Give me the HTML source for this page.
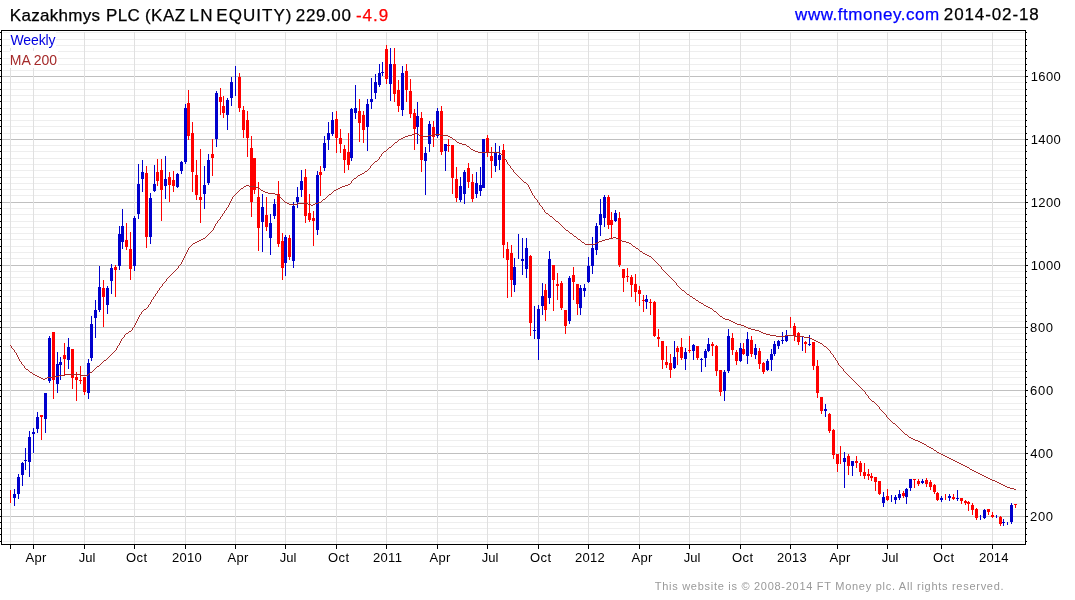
<!DOCTYPE html><html><head><meta charset="utf-8"><title>Kazakhmys PLC</title>
<style>html,body{margin:0;padding:0;background:#fff}svg{display:block;will-change:transform}text{font-family:"Liberation Sans",Arial,sans-serif}</style></head><body>
<svg width="1075" height="600" viewBox="0 0 1075 600">
<rect width="1075" height="600" fill="#fff"/>
<g shape-rendering="crispEdges">
<rect x="3" y="541" width="1021" height="1" fill="#eeeeee"/>
<rect x="3" y="534" width="1021" height="1" fill="#eeeeee"/>
<rect x="3" y="528" width="1021" height="1" fill="#eeeeee"/>
<rect x="3" y="522" width="1021" height="1" fill="#eeeeee"/>
<rect x="2" y="516" width="1023" height="1" fill="#c0c0c0"/>
<rect x="3" y="509" width="1021" height="1" fill="#eeeeee"/>
<rect x="3" y="503" width="1021" height="1" fill="#eeeeee"/>
<rect x="3" y="497" width="1021" height="1" fill="#eeeeee"/>
<rect x="3" y="490" width="1021" height="1" fill="#eeeeee"/>
<rect x="3" y="484" width="1021" height="1" fill="#eeeeee"/>
<rect x="3" y="478" width="1021" height="1" fill="#eeeeee"/>
<rect x="3" y="472" width="1021" height="1" fill="#eeeeee"/>
<rect x="3" y="465" width="1021" height="1" fill="#eeeeee"/>
<rect x="3" y="459" width="1021" height="1" fill="#eeeeee"/>
<rect x="2" y="453" width="1023" height="1" fill="#c0c0c0"/>
<rect x="3" y="446" width="1021" height="1" fill="#eeeeee"/>
<rect x="3" y="440" width="1021" height="1" fill="#eeeeee"/>
<rect x="3" y="434" width="1021" height="1" fill="#eeeeee"/>
<rect x="3" y="428" width="1021" height="1" fill="#eeeeee"/>
<rect x="3" y="421" width="1021" height="1" fill="#eeeeee"/>
<rect x="3" y="415" width="1021" height="1" fill="#eeeeee"/>
<rect x="3" y="409" width="1021" height="1" fill="#eeeeee"/>
<rect x="3" y="403" width="1021" height="1" fill="#eeeeee"/>
<rect x="3" y="396" width="1021" height="1" fill="#eeeeee"/>
<rect x="2" y="390" width="1023" height="1" fill="#c0c0c0"/>
<rect x="3" y="384" width="1021" height="1" fill="#eeeeee"/>
<rect x="3" y="377" width="1021" height="1" fill="#eeeeee"/>
<rect x="3" y="371" width="1021" height="1" fill="#eeeeee"/>
<rect x="3" y="365" width="1021" height="1" fill="#eeeeee"/>
<rect x="3" y="359" width="1021" height="1" fill="#eeeeee"/>
<rect x="3" y="352" width="1021" height="1" fill="#eeeeee"/>
<rect x="3" y="346" width="1021" height="1" fill="#eeeeee"/>
<rect x="3" y="339" width="1021" height="1" fill="#eeeeee"/>
<rect x="3" y="333" width="1021" height="1" fill="#eeeeee"/>
<rect x="2" y="327" width="1023" height="1" fill="#c0c0c0"/>
<rect x="3" y="321" width="1021" height="1" fill="#eeeeee"/>
<rect x="3" y="315" width="1021" height="1" fill="#eeeeee"/>
<rect x="3" y="308" width="1021" height="1" fill="#eeeeee"/>
<rect x="3" y="302" width="1021" height="1" fill="#eeeeee"/>
<rect x="3" y="296" width="1021" height="1" fill="#eeeeee"/>
<rect x="3" y="290" width="1021" height="1" fill="#eeeeee"/>
<rect x="3" y="283" width="1021" height="1" fill="#eeeeee"/>
<rect x="3" y="277" width="1021" height="1" fill="#eeeeee"/>
<rect x="3" y="271" width="1021" height="1" fill="#eeeeee"/>
<rect x="2" y="265" width="1023" height="1" fill="#c0c0c0"/>
<rect x="3" y="258" width="1021" height="1" fill="#eeeeee"/>
<rect x="3" y="252" width="1021" height="1" fill="#eeeeee"/>
<rect x="3" y="246" width="1021" height="1" fill="#eeeeee"/>
<rect x="3" y="239" width="1021" height="1" fill="#eeeeee"/>
<rect x="3" y="233" width="1021" height="1" fill="#eeeeee"/>
<rect x="3" y="227" width="1021" height="1" fill="#eeeeee"/>
<rect x="3" y="221" width="1021" height="1" fill="#eeeeee"/>
<rect x="3" y="214" width="1021" height="1" fill="#eeeeee"/>
<rect x="3" y="208" width="1021" height="1" fill="#eeeeee"/>
<rect x="2" y="202" width="1023" height="1" fill="#c0c0c0"/>
<rect x="3" y="195" width="1021" height="1" fill="#eeeeee"/>
<rect x="3" y="189" width="1021" height="1" fill="#eeeeee"/>
<rect x="3" y="183" width="1021" height="1" fill="#eeeeee"/>
<rect x="3" y="177" width="1021" height="1" fill="#eeeeee"/>
<rect x="3" y="170" width="1021" height="1" fill="#eeeeee"/>
<rect x="3" y="164" width="1021" height="1" fill="#eeeeee"/>
<rect x="3" y="158" width="1021" height="1" fill="#eeeeee"/>
<rect x="3" y="151" width="1021" height="1" fill="#eeeeee"/>
<rect x="3" y="145" width="1021" height="1" fill="#eeeeee"/>
<rect x="2" y="139" width="1023" height="1" fill="#c0c0c0"/>
<rect x="3" y="133" width="1021" height="1" fill="#eeeeee"/>
<rect x="3" y="126" width="1021" height="1" fill="#eeeeee"/>
<rect x="3" y="120" width="1021" height="1" fill="#eeeeee"/>
<rect x="3" y="114" width="1021" height="1" fill="#eeeeee"/>
<rect x="3" y="108" width="1021" height="1" fill="#eeeeee"/>
<rect x="3" y="101" width="1021" height="1" fill="#eeeeee"/>
<rect x="3" y="95" width="1021" height="1" fill="#eeeeee"/>
<rect x="3" y="89" width="1021" height="1" fill="#eeeeee"/>
<rect x="3" y="82" width="1021" height="1" fill="#eeeeee"/>
<rect x="2" y="76" width="1023" height="1" fill="#c0c0c0"/>
<rect x="3" y="70" width="1021" height="1" fill="#eeeeee"/>
<rect x="3" y="64" width="1021" height="1" fill="#eeeeee"/>
<rect x="3" y="58" width="1021" height="1" fill="#eeeeee"/>
<rect x="3" y="51" width="1021" height="1" fill="#eeeeee"/>
<rect x="3" y="45" width="1021" height="1" fill="#eeeeee"/>
<rect x="3" y="39" width="1021" height="1" fill="#eeeeee"/>
<rect x="3" y="32" width="1021" height="1" fill="#eeeeee"/>
<rect x="10" y="32" width="1" height="512" fill="#e0e0e0"/>
<rect x="33" y="32" width="1" height="512" fill="#e0e0e0"/>
<rect x="84" y="32" width="1" height="512" fill="#e0e0e0"/>
<rect x="134" y="32" width="1" height="512" fill="#e0e0e0"/>
<rect x="185" y="32" width="1" height="512" fill="#e0e0e0"/>
<rect x="235" y="32" width="1" height="512" fill="#e0e0e0"/>
<rect x="285" y="32" width="1" height="512" fill="#e0e0e0"/>
<rect x="336" y="32" width="1" height="512" fill="#e0e0e0"/>
<rect x="386" y="32" width="1" height="512" fill="#e0e0e0"/>
<rect x="437" y="32" width="1" height="512" fill="#e0e0e0"/>
<rect x="487" y="32" width="1" height="512" fill="#e0e0e0"/>
<rect x="538" y="32" width="1" height="512" fill="#e0e0e0"/>
<rect x="588" y="32" width="1" height="512" fill="#e0e0e0"/>
<rect x="639" y="32" width="1" height="512" fill="#e0e0e0"/>
<rect x="689" y="32" width="1" height="512" fill="#e0e0e0"/>
<rect x="740" y="32" width="1" height="512" fill="#e0e0e0"/>
<rect x="790" y="32" width="1" height="512" fill="#e0e0e0"/>
<rect x="837" y="32" width="1" height="512" fill="#e0e0e0"/>
<rect x="887" y="32" width="1" height="512" fill="#e0e0e0"/>
<rect x="941" y="32" width="1" height="512" fill="#e0e0e0"/>
<rect x="992" y="32" width="1" height="512" fill="#e0e0e0"/>
<rect x="10" y="31" width="46" height="17" fill="#fff"/>
<rect x="10" y="51" width="48" height="17" fill="#fff"/>
</g>
<g shape-rendering="crispEdges">
<rect x="10" y="490" width="1" height="13" fill="#ff0000"/>
<rect x="14" y="489" width="1" height="17" fill="#0000cd"/>
<rect x="13" y="494" width="3" height="4" fill="#0000cd"/>
<rect x="18" y="474" width="1" height="25" fill="#0000cd"/>
<rect x="17" y="477" width="3" height="17" fill="#0000cd"/>
<rect x="22" y="462" width="1" height="24" fill="#0000cd"/>
<rect x="21" y="463" width="3" height="12" fill="#0000cd"/>
<rect x="25" y="448" width="1" height="22" fill="#0000cd"/>
<rect x="24" y="460" width="3" height="1" fill="#0000cd"/>
<rect x="29" y="431" width="1" height="46" fill="#0000cd"/>
<rect x="28" y="437" width="3" height="25" fill="#0000cd"/>
<rect x="33" y="428" width="1" height="25" fill="#0000cd"/>
<rect x="32" y="432" width="3" height="2" fill="#0000cd"/>
<rect x="37" y="412" width="1" height="21" fill="#0000cd"/>
<rect x="36" y="417" width="3" height="12" fill="#0000cd"/>
<rect x="41" y="415" width="1" height="25" fill="#ff0000"/>
<rect x="40" y="415" width="3" height="2" fill="#ff0000"/>
<rect x="45" y="393" width="1" height="40" fill="#0000cd"/>
<rect x="44" y="393" width="3" height="26" fill="#0000cd"/>
<rect x="49" y="336" width="1" height="47" fill="#0000cd"/>
<rect x="48" y="338" width="3" height="43" fill="#0000cd"/>
<rect x="53" y="332" width="1" height="67" fill="#ff0000"/>
<rect x="52" y="332" width="3" height="48" fill="#ff0000"/>
<rect x="57" y="352" width="1" height="41" fill="#0000cd"/>
<rect x="56" y="364" width="3" height="20" fill="#0000cd"/>
<rect x="60" y="357" width="1" height="23" fill="#0000cd"/>
<rect x="59" y="362" width="3" height="3" fill="#0000cd"/>
<rect x="64" y="343" width="1" height="33" fill="#ff0000"/>
<rect x="63" y="355" width="3" height="4" fill="#ff0000"/>
<rect x="68" y="338" width="1" height="31" fill="#0000cd"/>
<rect x="67" y="347" width="3" height="13" fill="#0000cd"/>
<rect x="72" y="349" width="1" height="40" fill="#ff0000"/>
<rect x="71" y="349" width="3" height="29" fill="#ff0000"/>
<rect x="76" y="372" width="1" height="29" fill="#ff0000"/>
<rect x="75" y="377" width="3" height="3" fill="#ff0000"/>
<rect x="80" y="366" width="1" height="18" fill="#ff0000"/>
<rect x="79" y="380" width="3" height="1" fill="#ff0000"/>
<rect x="84" y="377" width="1" height="18" fill="#ff0000"/>
<rect x="83" y="377" width="3" height="15" fill="#ff0000"/>
<rect x="88" y="359" width="1" height="40" fill="#0000cd"/>
<rect x="87" y="363" width="3" height="30" fill="#0000cd"/>
<rect x="91" y="316" width="1" height="45" fill="#0000cd"/>
<rect x="90" y="324" width="3" height="34" fill="#0000cd"/>
<rect x="95" y="300" width="1" height="38" fill="#0000cd"/>
<rect x="94" y="310" width="3" height="8" fill="#0000cd"/>
<rect x="99" y="266" width="1" height="46" fill="#0000cd"/>
<rect x="98" y="287" width="3" height="23" fill="#0000cd"/>
<rect x="103" y="280" width="1" height="47" fill="#ff0000"/>
<rect x="102" y="288" width="3" height="9" fill="#ff0000"/>
<rect x="107" y="286" width="1" height="28" fill="#0000cd"/>
<rect x="106" y="288" width="3" height="17" fill="#0000cd"/>
<rect x="111" y="264" width="1" height="30" fill="#0000cd"/>
<rect x="110" y="268" width="3" height="13" fill="#0000cd"/>
<rect x="115" y="265" width="1" height="32" fill="#ff0000"/>
<rect x="114" y="267" width="3" height="3" fill="#ff0000"/>
<rect x="119" y="226" width="1" height="44" fill="#0000cd"/>
<rect x="118" y="234" width="3" height="32" fill="#0000cd"/>
<rect x="122" y="209" width="1" height="40" fill="#0000cd"/>
<rect x="121" y="226" width="3" height="16" fill="#0000cd"/>
<rect x="126" y="223" width="1" height="27" fill="#ff0000"/>
<rect x="125" y="240" width="3" height="7" fill="#ff0000"/>
<rect x="130" y="232" width="1" height="48" fill="#ff0000"/>
<rect x="129" y="249" width="3" height="20" fill="#ff0000"/>
<rect x="134" y="216" width="1" height="55" fill="#0000cd"/>
<rect x="133" y="218" width="3" height="48" fill="#0000cd"/>
<rect x="138" y="164" width="1" height="55" fill="#0000cd"/>
<rect x="137" y="184" width="3" height="30" fill="#0000cd"/>
<rect x="142" y="160" width="1" height="32" fill="#0000cd"/>
<rect x="141" y="172" width="3" height="7" fill="#0000cd"/>
<rect x="146" y="166" width="1" height="82" fill="#ff0000"/>
<rect x="145" y="173" width="3" height="64" fill="#ff0000"/>
<rect x="150" y="193" width="1" height="51" fill="#0000cd"/>
<rect x="149" y="198" width="3" height="39" fill="#0000cd"/>
<rect x="154" y="165" width="1" height="27" fill="#0000cd"/>
<rect x="153" y="184" width="3" height="7" fill="#0000cd"/>
<rect x="157" y="159" width="1" height="27" fill="#ff0000"/>
<rect x="156" y="172" width="3" height="9" fill="#ff0000"/>
<rect x="161" y="159" width="1" height="62" fill="#ff0000"/>
<rect x="160" y="170" width="3" height="20" fill="#ff0000"/>
<rect x="165" y="156" width="1" height="43" fill="#0000cd"/>
<rect x="164" y="179" width="3" height="7" fill="#0000cd"/>
<rect x="169" y="172" width="1" height="30" fill="#ff0000"/>
<rect x="168" y="177" width="3" height="8" fill="#ff0000"/>
<rect x="173" y="171" width="1" height="21" fill="#ff0000"/>
<rect x="172" y="180" width="3" height="6" fill="#ff0000"/>
<rect x="177" y="173" width="1" height="15" fill="#0000cd"/>
<rect x="176" y="174" width="3" height="13" fill="#0000cd"/>
<rect x="181" y="161" width="1" height="13" fill="#0000cd"/>
<rect x="180" y="162" width="3" height="9" fill="#0000cd"/>
<rect x="185" y="104" width="1" height="60" fill="#0000cd"/>
<rect x="184" y="108" width="3" height="54" fill="#0000cd"/>
<rect x="188" y="90" width="1" height="50" fill="#ff0000"/>
<rect x="187" y="103" width="3" height="33" fill="#ff0000"/>
<rect x="192" y="122" width="1" height="70" fill="#ff0000"/>
<rect x="191" y="133" width="3" height="39" fill="#ff0000"/>
<rect x="196" y="160" width="1" height="40" fill="#ff0000"/>
<rect x="195" y="175" width="3" height="20" fill="#ff0000"/>
<rect x="200" y="149" width="1" height="74" fill="#ff0000"/>
<rect x="199" y="197" width="3" height="3" fill="#ff0000"/>
<rect x="204" y="166" width="1" height="43" fill="#0000cd"/>
<rect x="203" y="185" width="3" height="9" fill="#0000cd"/>
<rect x="208" y="154" width="1" height="31" fill="#0000cd"/>
<rect x="207" y="160" width="3" height="23" fill="#0000cd"/>
<rect x="212" y="139" width="1" height="37" fill="#ff0000"/>
<rect x="211" y="154" width="3" height="4" fill="#ff0000"/>
<rect x="216" y="91" width="1" height="56" fill="#0000cd"/>
<rect x="215" y="93" width="3" height="46" fill="#0000cd"/>
<rect x="220" y="88" width="1" height="27" fill="#ff0000"/>
<rect x="219" y="97" width="3" height="5" fill="#ff0000"/>
<rect x="223" y="96" width="1" height="22" fill="#ff0000"/>
<rect x="222" y="106" width="3" height="7" fill="#ff0000"/>
<rect x="227" y="98" width="1" height="32" fill="#0000cd"/>
<rect x="226" y="100" width="3" height="15" fill="#0000cd"/>
<rect x="231" y="77" width="1" height="29" fill="#0000cd"/>
<rect x="230" y="82" width="3" height="16" fill="#0000cd"/>
<rect x="235" y="66" width="1" height="30" fill="#0000cd"/>
<rect x="239" y="73" width="1" height="39" fill="#ff0000"/>
<rect x="238" y="77" width="3" height="31" fill="#ff0000"/>
<rect x="243" y="106" width="1" height="32" fill="#ff0000"/>
<rect x="242" y="110" width="3" height="20" fill="#ff0000"/>
<rect x="247" y="111" width="1" height="46" fill="#ff0000"/>
<rect x="246" y="120" width="3" height="18" fill="#ff0000"/>
<rect x="251" y="136" width="1" height="81" fill="#ff0000"/>
<rect x="250" y="148" width="3" height="54" fill="#ff0000"/>
<rect x="254" y="158" width="1" height="36" fill="#ff0000"/>
<rect x="253" y="158" width="3" height="32" fill="#ff0000"/>
<rect x="258" y="182" width="1" height="69" fill="#ff0000"/>
<rect x="257" y="197" width="3" height="31" fill="#ff0000"/>
<rect x="262" y="194" width="1" height="58" fill="#0000cd"/>
<rect x="261" y="207" width="3" height="15" fill="#0000cd"/>
<rect x="266" y="197" width="1" height="34" fill="#ff0000"/>
<rect x="265" y="215" width="3" height="12" fill="#ff0000"/>
<rect x="270" y="214" width="1" height="41" fill="#0000cd"/>
<rect x="269" y="223" width="3" height="15" fill="#0000cd"/>
<rect x="274" y="199" width="1" height="20" fill="#0000cd"/>
<rect x="273" y="204" width="3" height="12" fill="#0000cd"/>
<rect x="278" y="181" width="1" height="66" fill="#ff0000"/>
<rect x="277" y="194" width="3" height="50" fill="#ff0000"/>
<rect x="282" y="233" width="1" height="47" fill="#ff0000"/>
<rect x="281" y="241" width="3" height="27" fill="#ff0000"/>
<rect x="285" y="235" width="1" height="41" fill="#0000cd"/>
<rect x="284" y="237" width="3" height="26" fill="#0000cd"/>
<rect x="289" y="235" width="1" height="25" fill="#ff0000"/>
<rect x="288" y="238" width="3" height="19" fill="#ff0000"/>
<rect x="293" y="202" width="1" height="66" fill="#0000cd"/>
<rect x="292" y="206" width="3" height="55" fill="#0000cd"/>
<rect x="297" y="187" width="1" height="21" fill="#0000cd"/>
<rect x="296" y="197" width="3" height="5" fill="#0000cd"/>
<rect x="301" y="170" width="1" height="27" fill="#0000cd"/>
<rect x="300" y="181" width="3" height="9" fill="#0000cd"/>
<rect x="305" y="169" width="1" height="54" fill="#ff0000"/>
<rect x="304" y="177" width="3" height="39" fill="#ff0000"/>
<rect x="309" y="194" width="1" height="28" fill="#ff0000"/>
<rect x="308" y="213" width="3" height="7" fill="#ff0000"/>
<rect x="313" y="211" width="1" height="35" fill="#ff0000"/>
<rect x="312" y="218" width="3" height="3" fill="#ff0000"/>
<rect x="317" y="171" width="1" height="64" fill="#0000cd"/>
<rect x="316" y="175" width="3" height="55" fill="#0000cd"/>
<rect x="320" y="166" width="1" height="30" fill="#ff0000"/>
<rect x="319" y="172" width="3" height="3" fill="#ff0000"/>
<rect x="324" y="136" width="1" height="35" fill="#0000cd"/>
<rect x="323" y="143" width="3" height="25" fill="#0000cd"/>
<rect x="328" y="122" width="1" height="28" fill="#0000cd"/>
<rect x="327" y="133" width="3" height="7" fill="#0000cd"/>
<rect x="332" y="112" width="1" height="24" fill="#0000cd"/>
<rect x="331" y="120" width="3" height="14" fill="#0000cd"/>
<rect x="336" y="111" width="1" height="42" fill="#ff0000"/>
<rect x="335" y="119" width="3" height="19" fill="#ff0000"/>
<rect x="340" y="129" width="1" height="24" fill="#ff0000"/>
<rect x="339" y="138" width="3" height="6" fill="#ff0000"/>
<rect x="344" y="145" width="1" height="28" fill="#ff0000"/>
<rect x="343" y="149" width="3" height="11" fill="#ff0000"/>
<rect x="348" y="133" width="1" height="37" fill="#ff0000"/>
<rect x="347" y="152" width="3" height="13" fill="#ff0000"/>
<rect x="351" y="108" width="1" height="53" fill="#0000cd"/>
<rect x="350" y="109" width="3" height="49" fill="#0000cd"/>
<rect x="355" y="85" width="1" height="34" fill="#0000cd"/>
<rect x="354" y="108" width="3" height="5" fill="#0000cd"/>
<rect x="359" y="99" width="1" height="43" fill="#ff0000"/>
<rect x="358" y="111" width="3" height="12" fill="#ff0000"/>
<rect x="363" y="111" width="1" height="32" fill="#ff0000"/>
<rect x="362" y="115" width="3" height="15" fill="#ff0000"/>
<rect x="367" y="99" width="1" height="52" fill="#0000cd"/>
<rect x="366" y="104" width="3" height="23" fill="#0000cd"/>
<rect x="371" y="78" width="1" height="31" fill="#0000cd"/>
<rect x="370" y="99" width="3" height="3" fill="#0000cd"/>
<rect x="375" y="74" width="1" height="25" fill="#0000cd"/>
<rect x="374" y="82" width="3" height="11" fill="#0000cd"/>
<rect x="379" y="64" width="1" height="23" fill="#0000cd"/>
<rect x="378" y="73" width="3" height="12" fill="#0000cd"/>
<rect x="382" y="62" width="1" height="14" fill="#0000cd"/>
<rect x="381" y="72" width="3" height="1" fill="#0000cd"/>
<rect x="386" y="45" width="1" height="39" fill="#ff0000"/>
<rect x="385" y="49" width="3" height="30" fill="#ff0000"/>
<rect x="390" y="48" width="1" height="53" fill="#0000cd"/>
<rect x="389" y="64" width="3" height="20" fill="#0000cd"/>
<rect x="394" y="48" width="1" height="54" fill="#ff0000"/>
<rect x="393" y="64" width="3" height="30" fill="#ff0000"/>
<rect x="398" y="80" width="1" height="32" fill="#ff0000"/>
<rect x="397" y="90" width="3" height="16" fill="#ff0000"/>
<rect x="402" y="66" width="1" height="50" fill="#0000cd"/>
<rect x="401" y="73" width="3" height="37" fill="#0000cd"/>
<rect x="406" y="64" width="1" height="38" fill="#ff0000"/>
<rect x="405" y="71" width="3" height="19" fill="#ff0000"/>
<rect x="410" y="79" width="1" height="39" fill="#ff0000"/>
<rect x="409" y="91" width="3" height="23" fill="#ff0000"/>
<rect x="414" y="109" width="1" height="41" fill="#ff0000"/>
<rect x="413" y="113" width="3" height="16" fill="#ff0000"/>
<rect x="417" y="102" width="1" height="42" fill="#0000cd"/>
<rect x="416" y="116" width="3" height="11" fill="#0000cd"/>
<rect x="421" y="112" width="1" height="60" fill="#ff0000"/>
<rect x="420" y="118" width="3" height="42" fill="#ff0000"/>
<rect x="425" y="147" width="1" height="48" fill="#0000cd"/>
<rect x="424" y="153" width="3" height="8" fill="#0000cd"/>
<rect x="429" y="121" width="1" height="31" fill="#0000cd"/>
<rect x="428" y="124" width="3" height="20" fill="#0000cd"/>
<rect x="433" y="121" width="1" height="26" fill="#ff0000"/>
<rect x="432" y="127" width="3" height="10" fill="#ff0000"/>
<rect x="437" y="108" width="1" height="30" fill="#0000cd"/>
<rect x="436" y="111" width="3" height="25" fill="#0000cd"/>
<rect x="441" y="106" width="1" height="49" fill="#ff0000"/>
<rect x="440" y="111" width="3" height="41" fill="#ff0000"/>
<rect x="445" y="144" width="1" height="27" fill="#0000cd"/>
<rect x="444" y="144" width="3" height="7" fill="#0000cd"/>
<rect x="448" y="139" width="1" height="13" fill="#ff0000"/>
<rect x="447" y="145" width="3" height="1" fill="#ff0000"/>
<rect x="452" y="145" width="1" height="49" fill="#ff0000"/>
<rect x="451" y="145" width="3" height="33" fill="#ff0000"/>
<rect x="456" y="167" width="1" height="35" fill="#ff0000"/>
<rect x="455" y="179" width="3" height="19" fill="#ff0000"/>
<rect x="460" y="177" width="1" height="25" fill="#0000cd"/>
<rect x="459" y="186" width="3" height="14" fill="#0000cd"/>
<rect x="464" y="170" width="1" height="34" fill="#0000cd"/>
<rect x="463" y="172" width="3" height="22" fill="#0000cd"/>
<rect x="468" y="163" width="1" height="25" fill="#ff0000"/>
<rect x="467" y="168" width="3" height="14" fill="#ff0000"/>
<rect x="472" y="174" width="1" height="28" fill="#ff0000"/>
<rect x="471" y="182" width="3" height="17" fill="#ff0000"/>
<rect x="476" y="172" width="1" height="26" fill="#0000cd"/>
<rect x="475" y="183" width="3" height="11" fill="#0000cd"/>
<rect x="480" y="167" width="1" height="29" fill="#0000cd"/>
<rect x="479" y="185" width="3" height="6" fill="#0000cd"/>
<rect x="483" y="139" width="1" height="49" fill="#0000cd"/>
<rect x="482" y="139" width="3" height="49" fill="#0000cd"/>
<rect x="487" y="135" width="1" height="22" fill="#ff0000"/>
<rect x="486" y="138" width="3" height="15" fill="#ff0000"/>
<rect x="491" y="147" width="1" height="31" fill="#ff0000"/>
<rect x="490" y="156" width="3" height="5" fill="#ff0000"/>
<rect x="495" y="143" width="1" height="29" fill="#0000cd"/>
<rect x="494" y="153" width="3" height="13" fill="#0000cd"/>
<rect x="499" y="146" width="1" height="24" fill="#0000cd"/>
<rect x="498" y="155" width="3" height="5" fill="#0000cd"/>
<rect x="503" y="144" width="1" height="114" fill="#ff0000"/>
<rect x="502" y="150" width="3" height="95" fill="#ff0000"/>
<rect x="507" y="242" width="1" height="56" fill="#ff0000"/>
<rect x="506" y="249" width="3" height="11" fill="#ff0000"/>
<rect x="511" y="245" width="1" height="52" fill="#ff0000"/>
<rect x="510" y="253" width="3" height="27" fill="#ff0000"/>
<rect x="514" y="258" width="1" height="34" fill="#0000cd"/>
<rect x="513" y="267" width="3" height="18" fill="#0000cd"/>
<rect x="518" y="234" width="1" height="25" fill="#0000cd"/>
<rect x="522" y="238" width="1" height="37" fill="#0000cd"/>
<rect x="521" y="259" width="3" height="2" fill="#0000cd"/>
<rect x="526" y="238" width="1" height="40" fill="#0000cd"/>
<rect x="525" y="248" width="3" height="21" fill="#0000cd"/>
<rect x="530" y="255" width="1" height="81" fill="#ff0000"/>
<rect x="529" y="256" width="3" height="67" fill="#ff0000"/>
<rect x="534" y="306" width="1" height="33" fill="#0000cd"/>
<rect x="533" y="330" width="3" height="1" fill="#0000cd"/>
<rect x="538" y="305" width="1" height="55" fill="#0000cd"/>
<rect x="537" y="309" width="3" height="30" fill="#0000cd"/>
<rect x="542" y="283" width="1" height="32" fill="#0000cd"/>
<rect x="541" y="296" width="3" height="10" fill="#0000cd"/>
<rect x="545" y="284" width="1" height="37" fill="#ff0000"/>
<rect x="544" y="290" width="3" height="20" fill="#ff0000"/>
<rect x="549" y="251" width="1" height="53" fill="#0000cd"/>
<rect x="548" y="259" width="3" height="39" fill="#0000cd"/>
<rect x="553" y="265" width="1" height="46" fill="#ff0000"/>
<rect x="552" y="265" width="3" height="15" fill="#ff0000"/>
<rect x="557" y="273" width="1" height="27" fill="#ff0000"/>
<rect x="556" y="284" width="3" height="2" fill="#ff0000"/>
<rect x="561" y="281" width="1" height="29" fill="#ff0000"/>
<rect x="560" y="283" width="3" height="25" fill="#ff0000"/>
<rect x="565" y="310" width="1" height="24" fill="#ff0000"/>
<rect x="564" y="310" width="3" height="16" fill="#ff0000"/>
<rect x="569" y="276" width="1" height="48" fill="#0000cd"/>
<rect x="568" y="278" width="3" height="43" fill="#0000cd"/>
<rect x="573" y="267" width="1" height="33" fill="#ff0000"/>
<rect x="572" y="275" width="3" height="7" fill="#ff0000"/>
<rect x="577" y="284" width="1" height="31" fill="#ff0000"/>
<rect x="576" y="284" width="3" height="20" fill="#ff0000"/>
<rect x="580" y="285" width="1" height="30" fill="#0000cd"/>
<rect x="579" y="288" width="3" height="20" fill="#0000cd"/>
<rect x="584" y="284" width="1" height="13" fill="#0000cd"/>
<rect x="583" y="288" width="3" height="3" fill="#0000cd"/>
<rect x="588" y="257" width="1" height="26" fill="#0000cd"/>
<rect x="587" y="266" width="3" height="16" fill="#0000cd"/>
<rect x="592" y="237" width="1" height="37" fill="#0000cd"/>
<rect x="591" y="248" width="3" height="18" fill="#0000cd"/>
<rect x="596" y="223" width="1" height="32" fill="#0000cd"/>
<rect x="595" y="226" width="3" height="24" fill="#0000cd"/>
<rect x="600" y="199" width="1" height="37" fill="#0000cd"/>
<rect x="599" y="214" width="3" height="11" fill="#0000cd"/>
<rect x="604" y="195" width="1" height="32" fill="#0000cd"/>
<rect x="603" y="197" width="3" height="21" fill="#0000cd"/>
<rect x="608" y="195" width="1" height="34" fill="#ff0000"/>
<rect x="607" y="197" width="3" height="28" fill="#ff0000"/>
<rect x="611" y="212" width="1" height="27" fill="#ff0000"/>
<rect x="610" y="220" width="3" height="5" fill="#ff0000"/>
<rect x="615" y="210" width="1" height="12" fill="#0000cd"/>
<rect x="614" y="213" width="3" height="8" fill="#0000cd"/>
<rect x="619" y="212" width="1" height="55" fill="#ff0000"/>
<rect x="618" y="218" width="3" height="47" fill="#ff0000"/>
<rect x="623" y="269" width="1" height="23" fill="#ff0000"/>
<rect x="622" y="269" width="3" height="9" fill="#ff0000"/>
<rect x="627" y="268" width="1" height="14" fill="#ff0000"/>
<rect x="626" y="276" width="3" height="1" fill="#ff0000"/>
<rect x="631" y="275" width="1" height="22" fill="#ff0000"/>
<rect x="630" y="277" width="3" height="8" fill="#ff0000"/>
<rect x="635" y="274" width="1" height="28" fill="#ff0000"/>
<rect x="634" y="284" width="3" height="8" fill="#ff0000"/>
<rect x="639" y="286" width="1" height="20" fill="#ff0000"/>
<rect x="638" y="290" width="3" height="4" fill="#ff0000"/>
<rect x="643" y="295" width="1" height="17" fill="#ff0000"/>
<rect x="642" y="300" width="3" height="1" fill="#ff0000"/>
<rect x="646" y="295" width="1" height="14" fill="#0000cd"/>
<rect x="645" y="299" width="3" height="3" fill="#0000cd"/>
<rect x="650" y="299" width="1" height="16" fill="#ff0000"/>
<rect x="649" y="302" width="3" height="1" fill="#ff0000"/>
<rect x="654" y="301" width="1" height="36" fill="#ff0000"/>
<rect x="653" y="302" width="3" height="34" fill="#ff0000"/>
<rect x="658" y="329" width="1" height="18" fill="#ff0000"/>
<rect x="657" y="337" width="3" height="2" fill="#ff0000"/>
<rect x="662" y="341" width="1" height="28" fill="#ff0000"/>
<rect x="661" y="341" width="3" height="19" fill="#ff0000"/>
<rect x="666" y="346" width="1" height="22" fill="#ff0000"/>
<rect x="665" y="362" width="3" height="3" fill="#ff0000"/>
<rect x="670" y="354" width="1" height="24" fill="#ff0000"/>
<rect x="669" y="363" width="3" height="7" fill="#ff0000"/>
<rect x="674" y="341" width="1" height="28" fill="#0000cd"/>
<rect x="673" y="357" width="3" height="11" fill="#0000cd"/>
<rect x="677" y="346" width="1" height="19" fill="#ff0000"/>
<rect x="676" y="348" width="3" height="4" fill="#ff0000"/>
<rect x="681" y="338" width="1" height="22" fill="#ff0000"/>
<rect x="680" y="347" width="3" height="11" fill="#ff0000"/>
<rect x="685" y="348" width="1" height="22" fill="#0000cd"/>
<rect x="684" y="352" width="3" height="7" fill="#0000cd"/>
<rect x="689" y="336" width="1" height="17" fill="#ff0000"/>
<rect x="688" y="350" width="3" height="1" fill="#ff0000"/>
<rect x="693" y="344" width="1" height="16" fill="#0000cd"/>
<rect x="692" y="345" width="3" height="6" fill="#0000cd"/>
<rect x="697" y="346" width="1" height="14" fill="#ff0000"/>
<rect x="696" y="346" width="3" height="12" fill="#ff0000"/>
<rect x="701" y="358" width="1" height="14" fill="#0000cd"/>
<rect x="700" y="359" width="3" height="1" fill="#0000cd"/>
<rect x="705" y="349" width="1" height="18" fill="#0000cd"/>
<rect x="704" y="351" width="3" height="7" fill="#0000cd"/>
<rect x="708" y="338" width="1" height="14" fill="#0000cd"/>
<rect x="707" y="344" width="3" height="7" fill="#0000cd"/>
<rect x="712" y="342" width="1" height="14" fill="#ff0000"/>
<rect x="711" y="344" width="3" height="2" fill="#ff0000"/>
<rect x="716" y="345" width="1" height="31" fill="#ff0000"/>
<rect x="715" y="346" width="3" height="25" fill="#ff0000"/>
<rect x="720" y="370" width="1" height="26" fill="#ff0000"/>
<rect x="719" y="370" width="3" height="22" fill="#ff0000"/>
<rect x="724" y="370" width="1" height="31" fill="#0000cd"/>
<rect x="723" y="372" width="3" height="19" fill="#0000cd"/>
<rect x="728" y="329" width="1" height="44" fill="#0000cd"/>
<rect x="727" y="336" width="3" height="35" fill="#0000cd"/>
<rect x="732" y="333" width="1" height="22" fill="#ff0000"/>
<rect x="731" y="338" width="3" height="12" fill="#ff0000"/>
<rect x="736" y="350" width="1" height="15" fill="#ff0000"/>
<rect x="735" y="352" width="3" height="9" fill="#ff0000"/>
<rect x="740" y="343" width="1" height="19" fill="#0000cd"/>
<rect x="739" y="348" width="3" height="13" fill="#0000cd"/>
<rect x="743" y="343" width="1" height="12" fill="#ff0000"/>
<rect x="742" y="349" width="3" height="5" fill="#ff0000"/>
<rect x="747" y="332" width="1" height="32" fill="#0000cd"/>
<rect x="746" y="339" width="3" height="17" fill="#0000cd"/>
<rect x="751" y="336" width="1" height="21" fill="#ff0000"/>
<rect x="750" y="340" width="3" height="14" fill="#ff0000"/>
<rect x="755" y="344" width="1" height="15" fill="#0000cd"/>
<rect x="754" y="348" width="3" height="7" fill="#0000cd"/>
<rect x="759" y="348" width="1" height="21" fill="#ff0000"/>
<rect x="758" y="351" width="3" height="13" fill="#ff0000"/>
<rect x="763" y="362" width="1" height="12" fill="#ff0000"/>
<rect x="762" y="363" width="3" height="9" fill="#ff0000"/>
<rect x="767" y="359" width="1" height="12" fill="#0000cd"/>
<rect x="766" y="361" width="3" height="9" fill="#0000cd"/>
<rect x="771" y="349" width="1" height="22" fill="#0000cd"/>
<rect x="770" y="354" width="3" height="6" fill="#0000cd"/>
<rect x="774" y="341" width="1" height="15" fill="#0000cd"/>
<rect x="773" y="344" width="3" height="10" fill="#0000cd"/>
<rect x="778" y="340" width="1" height="9" fill="#0000cd"/>
<rect x="777" y="341" width="3" height="5" fill="#0000cd"/>
<rect x="782" y="332" width="1" height="12" fill="#0000cd"/>
<rect x="781" y="340" width="3" height="1" fill="#0000cd"/>
<rect x="786" y="330" width="1" height="12" fill="#0000cd"/>
<rect x="785" y="335" width="3" height="6" fill="#0000cd"/>
<rect x="790" y="317" width="1" height="11" fill="#ff0000"/>
<rect x="794" y="323" width="1" height="18" fill="#ff0000"/>
<rect x="793" y="326" width="3" height="10" fill="#ff0000"/>
<rect x="798" y="332" width="1" height="13" fill="#ff0000"/>
<rect x="797" y="333" width="3" height="9" fill="#ff0000"/>
<rect x="802" y="337" width="1" height="14" fill="#0000cd"/>
<rect x="805" y="341" width="1" height="12" fill="#ff0000"/>
<rect x="804" y="342" width="3" height="2" fill="#ff0000"/>
<rect x="809" y="335" width="1" height="11" fill="#0000cd"/>
<rect x="808" y="344" width="3" height="1" fill="#0000cd"/>
<rect x="813" y="342" width="1" height="28" fill="#ff0000"/>
<rect x="812" y="342" width="3" height="24" fill="#ff0000"/>
<rect x="817" y="360" width="1" height="38" fill="#ff0000"/>
<rect x="816" y="366" width="3" height="27" fill="#ff0000"/>
<rect x="821" y="397" width="1" height="17" fill="#ff0000"/>
<rect x="820" y="397" width="3" height="14" fill="#ff0000"/>
<rect x="825" y="404" width="1" height="13" fill="#0000cd"/>
<rect x="824" y="409" width="3" height="2" fill="#0000cd"/>
<rect x="829" y="413" width="1" height="20" fill="#ff0000"/>
<rect x="828" y="414" width="3" height="17" fill="#ff0000"/>
<rect x="833" y="429" width="1" height="30" fill="#ff0000"/>
<rect x="832" y="430" width="3" height="25" fill="#ff0000"/>
<rect x="837" y="454" width="1" height="18" fill="#ff0000"/>
<rect x="836" y="454" width="3" height="10" fill="#ff0000"/>
<rect x="840" y="446" width="1" height="18" fill="#ff0000"/>
<rect x="844" y="452" width="1" height="36" fill="#0000cd"/>
<rect x="843" y="458" width="3" height="4" fill="#0000cd"/>
<rect x="848" y="454" width="1" height="21" fill="#ff0000"/>
<rect x="847" y="456" width="3" height="10" fill="#ff0000"/>
<rect x="852" y="461" width="1" height="15" fill="#0000cd"/>
<rect x="851" y="461" width="3" height="5" fill="#0000cd"/>
<rect x="856" y="456" width="1" height="12" fill="#ff0000"/>
<rect x="855" y="461" width="3" height="2" fill="#ff0000"/>
<rect x="860" y="461" width="1" height="15" fill="#ff0000"/>
<rect x="859" y="463" width="3" height="9" fill="#ff0000"/>
<rect x="864" y="463" width="1" height="16" fill="#ff0000"/>
<rect x="863" y="472" width="3" height="4" fill="#ff0000"/>
<rect x="868" y="469" width="1" height="11" fill="#ff0000"/>
<rect x="867" y="474" width="3" height="2" fill="#ff0000"/>
<rect x="871" y="473" width="1" height="8" fill="#ff0000"/>
<rect x="870" y="476" width="3" height="2" fill="#ff0000"/>
<rect x="875" y="477" width="1" height="14" fill="#ff0000"/>
<rect x="874" y="477" width="3" height="5" fill="#ff0000"/>
<rect x="879" y="481" width="1" height="14" fill="#ff0000"/>
<rect x="878" y="481" width="3" height="13" fill="#ff0000"/>
<rect x="883" y="492" width="1" height="15" fill="#0000cd"/>
<rect x="882" y="497" width="3" height="6" fill="#0000cd"/>
<rect x="887" y="489" width="1" height="12" fill="#ff0000"/>
<rect x="886" y="496" width="3" height="4" fill="#ff0000"/>
<rect x="891" y="495" width="1" height="7" fill="#0000cd"/>
<rect x="895" y="495" width="1" height="9" fill="#0000cd"/>
<rect x="894" y="497" width="3" height="3" fill="#0000cd"/>
<rect x="899" y="490" width="1" height="10" fill="#0000cd"/>
<rect x="898" y="494" width="3" height="4" fill="#0000cd"/>
<rect x="903" y="491" width="1" height="7" fill="#ff0000"/>
<rect x="902" y="493" width="3" height="3" fill="#ff0000"/>
<rect x="906" y="488" width="1" height="16" fill="#0000cd"/>
<rect x="905" y="489" width="3" height="8" fill="#0000cd"/>
<rect x="910" y="479" width="1" height="12" fill="#0000cd"/>
<rect x="909" y="479" width="3" height="9" fill="#0000cd"/>
<rect x="914" y="479" width="1" height="9" fill="#ff0000"/>
<rect x="913" y="479" width="3" height="1" fill="#ff0000"/>
<rect x="918" y="479" width="1" height="7" fill="#ff0000"/>
<rect x="917" y="481" width="3" height="3" fill="#ff0000"/>
<rect x="922" y="479" width="1" height="5" fill="#0000cd"/>
<rect x="921" y="481" width="3" height="2" fill="#0000cd"/>
<rect x="926" y="478" width="1" height="9" fill="#ff0000"/>
<rect x="925" y="480" width="3" height="4" fill="#ff0000"/>
<rect x="930" y="480" width="1" height="10" fill="#ff0000"/>
<rect x="929" y="482" width="3" height="5" fill="#ff0000"/>
<rect x="934" y="484" width="1" height="10" fill="#ff0000"/>
<rect x="933" y="485" width="3" height="7" fill="#ff0000"/>
<rect x="937" y="492" width="1" height="9" fill="#ff0000"/>
<rect x="936" y="493" width="3" height="7" fill="#ff0000"/>
<rect x="941" y="496" width="1" height="6" fill="#0000cd"/>
<rect x="940" y="498" width="3" height="2" fill="#0000cd"/>
<rect x="945" y="494" width="1" height="6" fill="#ff0000"/>
<rect x="949" y="494" width="1" height="7" fill="#0000cd"/>
<rect x="948" y="496" width="3" height="2" fill="#0000cd"/>
<rect x="953" y="494" width="1" height="6" fill="#ff0000"/>
<rect x="952" y="497" width="3" height="2" fill="#ff0000"/>
<rect x="957" y="490" width="1" height="11" fill="#0000cd"/>
<rect x="956" y="498" width="3" height="1" fill="#0000cd"/>
<rect x="961" y="498" width="1" height="6" fill="#ff0000"/>
<rect x="960" y="498" width="3" height="3" fill="#ff0000"/>
<rect x="965" y="500" width="1" height="5" fill="#ff0000"/>
<rect x="964" y="501" width="3" height="2" fill="#ff0000"/>
<rect x="968" y="501" width="1" height="10" fill="#ff0000"/>
<rect x="967" y="502" width="3" height="2" fill="#ff0000"/>
<rect x="972" y="503" width="1" height="12" fill="#ff0000"/>
<rect x="971" y="505" width="3" height="5" fill="#ff0000"/>
<rect x="976" y="508" width="1" height="12" fill="#ff0000"/>
<rect x="975" y="509" width="3" height="9" fill="#ff0000"/>
<rect x="980" y="515" width="1" height="5" fill="#0000cd"/>
<rect x="984" y="509" width="1" height="10" fill="#0000cd"/>
<rect x="983" y="510" width="3" height="8" fill="#0000cd"/>
<rect x="988" y="509" width="1" height="6" fill="#ff0000"/>
<rect x="987" y="509" width="3" height="3" fill="#ff0000"/>
<rect x="992" y="512" width="1" height="6" fill="#ff0000"/>
<rect x="991" y="515" width="3" height="2" fill="#ff0000"/>
<rect x="996" y="515" width="1" height="3" fill="#0000cd"/>
<rect x="1000" y="516" width="1" height="10" fill="#ff0000"/>
<rect x="999" y="517" width="3" height="7" fill="#ff0000"/>
<rect x="1003" y="519" width="1" height="7" fill="#0000cd"/>
<rect x="1002" y="522" width="3" height="1" fill="#0000cd"/>
<rect x="1007" y="522" width="1" height="3" fill="#0000cd"/>
<rect x="1011" y="503" width="1" height="21" fill="#0000cd"/>
<rect x="1010" y="505" width="3" height="17" fill="#0000cd"/>
<rect x="1015" y="504" width="1" height="4" fill="#ff0000"/>
<rect x="1014" y="504" width="3" height="1" fill="#ff0000"/>
</g>
<path shape-rendering="crispEdges" fill="#a52a2a" d="M10 345h1v1h-1zM11 346h1v2h-1zM12 348h1v1h-1zM13 349h1v1h-1zM14 350h1v2h-1zM15 352h1v1h-1zM16 353h1v2h-1zM17 355h1v2h-1zM18 357h1v2h-1zM19 359h1v2h-1zM20 361h1v1h-1zM21 362h1v2h-1zM22 364h1v1h-1zM23 365h1v1h-1zM24 366h1v2h-1zM25 368h1v1h-1zM26 369h1v1h-1zM27 369h1v1h-1zM28 370h1v1h-1zM29 371h1v1h-1zM30 372h1v1h-1zM31 372h1v1h-1zM32 373h1v1h-1zM33 374h1v1h-1zM34 374h1v1h-1zM35 375h1v1h-1zM36 375h1v1h-1zM37 376h1v1h-1zM38 376h1v1h-1zM39 377h1v1h-1zM40 377h1v1h-1zM41 378h1v1h-1zM42 378h1v1h-1zM43 379h1v1h-1zM44 379h1v1h-1zM45 378h1v1h-1zM46 378h1v1h-1zM47 377h1v1h-1zM48 377h1v1h-1zM49 377h1v1h-1zM50 377h1v1h-1zM51 377h1v1h-1zM52 376h1v1h-1zM53 376h1v1h-1zM54 376h1v1h-1zM55 376h1v1h-1zM56 376h1v1h-1zM57 376h1v1h-1zM58 376h1v1h-1zM59 375h1v1h-1zM60 375h1v1h-1zM61 375h1v1h-1zM62 375h1v1h-1zM63 375h1v1h-1zM64 375h1v1h-1zM65 374h1v1h-1zM66 374h1v1h-1zM67 374h1v1h-1zM68 374h1v1h-1zM69 374h1v1h-1zM70 374h1v1h-1zM71 374h1v1h-1zM72 374h1v1h-1zM73 374h1v1h-1zM74 374h1v1h-1zM75 374h1v1h-1zM76 374h1v1h-1zM77 374h1v1h-1zM78 374h1v1h-1zM79 374h1v1h-1zM80 374h1v1h-1zM81 375h1v1h-1zM82 375h1v1h-1zM83 375h1v1h-1zM84 375h1v1h-1zM85 375h1v1h-1zM86 375h1v1h-1zM87 375h1v1h-1zM88 374h1v1h-1zM89 373h1v1h-1zM90 372h1v1h-1zM91 372h1v1h-1zM92 371h1v1h-1zM93 370h1v1h-1zM94 369h1v1h-1zM95 368h1v1h-1zM96 367h1v1h-1zM97 366h1v1h-1zM98 366h1v1h-1zM99 365h1v1h-1zM100 364h1v1h-1zM101 363h1v1h-1zM102 362h1v1h-1zM103 361h1v1h-1zM104 360h1v1h-1zM105 360h1v1h-1zM106 359h1v1h-1zM107 358h1v1h-1zM108 357h1v1h-1zM109 356h1v1h-1zM110 355h1v1h-1zM111 354h1v1h-1zM112 353h1v1h-1zM113 352h1v1h-1zM114 351h1v1h-1zM115 350h1v1h-1zM116 348h1v2h-1zM117 346h1v2h-1zM118 345h1v1h-1zM119 343h1v2h-1zM120 341h1v2h-1zM121 339h1v2h-1zM122 338h1v1h-1zM123 337h1v1h-1zM124 335h1v2h-1zM125 334h1v1h-1zM126 333h1v1h-1zM127 333h1v1h-1zM128 332h1v1h-1zM129 331h1v1h-1zM130 331h1v1h-1zM131 330h1v1h-1zM132 328h1v2h-1zM133 327h1v1h-1zM134 325h1v2h-1zM135 323h1v2h-1zM136 321h1v2h-1zM137 319h1v2h-1zM138 317h1v2h-1zM139 315h1v2h-1zM140 314h1v1h-1zM141 312h1v2h-1zM142 311h1v1h-1zM143 310h1v1h-1zM144 309h1v1h-1zM145 309h1v1h-1zM146 308h1v1h-1zM147 307h1v1h-1zM148 305h1v2h-1zM149 304h1v1h-1zM150 302h1v2h-1zM151 300h1v2h-1zM152 299h1v1h-1zM153 297h1v2h-1zM154 296h1v1h-1zM155 294h1v2h-1zM156 293h1v1h-1zM157 291h1v2h-1zM158 290h1v1h-1zM159 288h1v2h-1zM160 287h1v1h-1zM161 286h1v1h-1zM162 284h1v2h-1zM163 283h1v1h-1zM164 282h1v1h-1zM165 281h1v1h-1zM166 279h1v2h-1zM167 278h1v1h-1zM168 277h1v1h-1zM169 276h1v1h-1zM170 275h1v1h-1zM171 274h1v1h-1zM172 273h1v1h-1zM173 272h1v1h-1zM174 271h1v1h-1zM175 270h1v1h-1zM176 269h1v1h-1zM177 268h1v1h-1zM178 266h1v2h-1zM179 265h1v1h-1zM180 264h1v1h-1zM181 262h1v2h-1zM182 260h1v2h-1zM183 258h1v2h-1zM184 256h1v2h-1zM185 254h1v2h-1zM186 252h1v2h-1zM187 250h1v2h-1zM188 248h1v2h-1zM189 247h1v1h-1zM190 246h1v1h-1zM191 245h1v1h-1zM192 244h1v1h-1zM193 243h1v1h-1zM194 243h1v1h-1zM195 242h1v1h-1zM196 242h1v1h-1zM197 241h1v1h-1zM198 241h1v1h-1zM199 240h1v1h-1zM200 240h1v1h-1zM201 239h1v1h-1zM202 239h1v1h-1zM203 238h1v1h-1zM204 238h1v1h-1zM205 237h1v1h-1zM206 236h1v1h-1zM207 235h1v1h-1zM208 234h1v1h-1zM209 233h1v1h-1zM210 232h1v1h-1zM211 231h1v1h-1zM212 230h1v1h-1zM213 228h1v2h-1zM214 226h1v2h-1zM215 224h1v2h-1zM216 223h1v1h-1zM217 221h1v2h-1zM218 220h1v1h-1zM219 219h1v1h-1zM220 217h1v2h-1zM221 216h1v1h-1zM222 214h1v2h-1zM223 213h1v1h-1zM224 211h1v2h-1zM225 210h1v1h-1zM226 208h1v2h-1zM227 207h1v1h-1zM228 205h1v2h-1zM229 203h1v2h-1zM230 201h1v2h-1zM231 199h1v2h-1zM232 197h1v2h-1zM233 196h1v1h-1zM234 195h1v1h-1zM235 194h1v1h-1zM236 193h1v1h-1zM237 192h1v1h-1zM238 191h1v1h-1zM239 190h1v1h-1zM240 189h1v1h-1zM241 188h1v1h-1zM242 188h1v1h-1zM243 187h1v1h-1zM244 186h1v1h-1zM245 186h1v1h-1zM246 185h1v1h-1zM247 185h1v1h-1zM248 185h1v1h-1zM249 186h1v1h-1zM250 186h1v1h-1zM251 186h1v1h-1zM252 186h1v1h-1zM253 186h1v1h-1zM254 186h1v1h-1zM255 186h1v1h-1zM256 187h1v1h-1zM257 187h1v1h-1zM258 188h1v1h-1zM259 188h1v1h-1zM260 189h1v1h-1zM261 190h1v1h-1zM262 190h1v1h-1zM263 191h1v1h-1zM264 191h1v1h-1zM265 192h1v1h-1zM266 192h1v1h-1zM267 192h1v1h-1zM268 193h1v1h-1zM269 193h1v1h-1zM270 193h1v1h-1zM271 193h1v1h-1zM272 193h1v1h-1zM273 193h1v1h-1zM274 193h1v1h-1zM275 194h1v1h-1zM276 194h1v1h-1zM277 195h1v1h-1zM278 195h1v1h-1zM279 196h1v1h-1zM280 197h1v1h-1zM281 198h1v1h-1zM282 199h1v1h-1zM283 200h1v1h-1zM284 201h1v1h-1zM285 202h1v1h-1zM286 202h1v1h-1zM287 203h1v1h-1zM288 203h1v1h-1zM289 204h1v1h-1zM290 204h1v1h-1zM291 204h1v1h-1zM292 204h1v1h-1zM293 204h1v1h-1zM294 204h1v1h-1zM295 204h1v1h-1zM296 204h1v1h-1zM297 204h1v1h-1zM298 203h1v1h-1zM299 203h1v1h-1zM300 203h1v1h-1zM301 203h1v1h-1zM302 203h1v1h-1zM303 203h1v1h-1zM304 203h1v1h-1zM305 203h1v1h-1zM306 203h1v1h-1zM307 203h1v1h-1zM308 204h1v1h-1zM309 204h1v1h-1zM310 204h1v1h-1zM311 205h1v1h-1zM312 205h1v1h-1zM313 204h1v1h-1zM314 204h1v1h-1zM315 203h1v1h-1zM316 203h1v1h-1zM317 203h1v1h-1zM318 202h1v1h-1zM319 202h1v1h-1zM320 202h1v1h-1zM321 201h1v1h-1zM322 200h1v1h-1zM323 199h1v1h-1zM324 199h1v1h-1zM325 198h1v1h-1zM326 197h1v1h-1zM327 196h1v1h-1zM328 195h1v1h-1zM329 194h1v1h-1zM330 194h1v1h-1zM331 193h1v1h-1zM332 192h1v1h-1zM333 191h1v1h-1zM334 190h1v1h-1zM335 190h1v1h-1zM336 189h1v1h-1zM337 189h1v1h-1zM338 188h1v1h-1zM339 188h1v1h-1zM340 187h1v1h-1zM341 187h1v1h-1zM342 186h1v1h-1zM343 186h1v1h-1zM344 186h1v1h-1zM345 185h1v1h-1zM346 185h1v1h-1zM347 185h1v1h-1zM348 184h1v1h-1zM349 184h1v1h-1zM350 183h1v1h-1zM351 181h1v2h-1zM352 180h1v1h-1zM353 179h1v1h-1zM354 178h1v1h-1zM355 178h1v1h-1zM356 177h1v1h-1zM357 176h1v1h-1zM358 175h1v1h-1zM359 175h1v1h-1zM360 174h1v1h-1zM361 174h1v1h-1zM362 173h1v1h-1zM363 173h1v1h-1zM364 172h1v1h-1zM365 171h1v1h-1zM366 171h1v1h-1zM367 170h1v1h-1zM368 169h1v1h-1zM369 168h1v1h-1zM370 166h1v2h-1zM371 165h1v1h-1zM372 164h1v1h-1zM373 163h1v1h-1zM374 162h1v1h-1zM375 161h1v1h-1zM376 161h1v1h-1zM377 160h1v1h-1zM378 159h1v1h-1zM379 157h1v2h-1zM380 156h1v1h-1zM381 154h1v2h-1zM382 153h1v1h-1zM383 152h1v1h-1zM384 151h1v1h-1zM385 151h1v1h-1zM386 150h1v1h-1zM387 149h1v1h-1zM388 148h1v1h-1zM389 147h1v1h-1zM390 147h1v1h-1zM391 146h1v1h-1zM392 145h1v1h-1zM393 144h1v1h-1zM394 143h1v1h-1zM395 142h1v1h-1zM396 142h1v1h-1zM397 141h1v1h-1zM398 140h1v1h-1zM399 139h1v1h-1zM400 139h1v1h-1zM401 138h1v1h-1zM402 138h1v1h-1zM403 137h1v1h-1zM404 137h1v1h-1zM405 136h1v1h-1zM406 136h1v1h-1zM407 136h1v1h-1zM408 135h1v1h-1zM409 135h1v1h-1zM410 135h1v1h-1zM411 135h1v1h-1zM412 134h1v1h-1zM413 134h1v1h-1zM414 134h1v1h-1zM415 133h1v1h-1zM416 133h1v1h-1zM417 134h1v1h-1zM418 134h1v1h-1zM419 135h1v1h-1zM420 135h1v1h-1zM421 135h1v1h-1zM422 135h1v1h-1zM423 136h1v1h-1zM424 136h1v1h-1zM425 136h1v1h-1zM426 136h1v1h-1zM427 136h1v1h-1zM428 135h1v1h-1zM429 135h1v1h-1zM430 135h1v1h-1zM431 135h1v1h-1zM432 135h1v1h-1zM433 135h1v1h-1zM434 134h1v1h-1zM435 134h1v1h-1zM436 134h1v1h-1zM437 134h1v1h-1zM438 134h1v1h-1zM439 134h1v1h-1zM440 135h1v1h-1zM441 135h1v1h-1zM442 135h1v1h-1zM443 135h1v1h-1zM444 135h1v1h-1zM445 135h1v1h-1zM446 135h1v1h-1zM447 135h1v1h-1zM448 136h1v1h-1zM449 136h1v1h-1zM450 137h1v1h-1zM451 137h1v1h-1zM452 138h1v1h-1zM453 139h1v1h-1zM454 139h1v1h-1zM455 140h1v1h-1zM456 141h1v1h-1zM457 142h1v1h-1zM458 142h1v1h-1zM459 143h1v1h-1zM460 143h1v1h-1zM461 143h1v1h-1zM462 144h1v1h-1zM463 144h1v1h-1zM464 144h1v1h-1zM465 144h1v1h-1zM466 145h1v1h-1zM467 146h1v1h-1zM468 146h1v1h-1zM469 147h1v1h-1zM470 148h1v1h-1zM471 149h1v1h-1zM472 149h1v1h-1zM473 150h1v1h-1zM474 150h1v1h-1zM475 151h1v1h-1zM476 151h1v1h-1zM477 151h1v1h-1zM478 152h1v1h-1zM479 152h1v1h-1zM480 152h1v1h-1zM481 152h1v1h-1zM482 152h1v1h-1zM483 152h1v1h-1zM484 152h1v1h-1zM485 152h1v1h-1zM486 152h1v1h-1zM487 152h1v1h-1zM488 152h1v1h-1zM489 152h1v1h-1zM490 152h1v1h-1zM491 152h1v1h-1zM492 152h1v1h-1zM493 152h1v1h-1zM494 152h1v1h-1zM495 152h1v1h-1zM496 152h1v1h-1zM497 152h1v1h-1zM498 152h1v1h-1zM499 152h1v1h-1zM500 153h1v1h-1zM501 154h1v1h-1zM502 155h1v1h-1zM503 156h1v1h-1zM504 157h1v2h-1zM505 159h1v1h-1zM506 160h1v2h-1zM507 162h1v2h-1zM508 164h1v1h-1zM509 165h1v1h-1zM510 166h1v2h-1zM511 168h1v1h-1zM512 169h1v1h-1zM513 170h1v2h-1zM514 172h1v1h-1zM515 173h1v1h-1zM516 174h1v1h-1zM517 175h1v1h-1zM518 176h1v1h-1zM519 177h1v1h-1zM520 178h1v1h-1zM521 179h1v1h-1zM522 180h1v1h-1zM523 181h1v1h-1zM524 182h1v1h-1zM525 182h1v1h-1zM526 183h1v1h-1zM527 184h1v1h-1zM528 185h1v2h-1zM529 187h1v2h-1zM530 189h1v2h-1zM531 191h1v2h-1zM532 193h1v2h-1zM533 195h1v1h-1zM534 196h1v2h-1zM535 198h1v1h-1zM536 199h1v1h-1zM537 200h1v2h-1zM538 202h1v1h-1zM539 203h1v2h-1zM540 205h1v1h-1zM541 206h1v1h-1zM542 207h1v2h-1zM543 209h1v1h-1zM544 210h1v2h-1zM545 212h1v1h-1zM546 213h1v1h-1zM547 213h1v1h-1zM548 214h1v1h-1zM549 215h1v1h-1zM550 216h1v1h-1zM551 216h1v1h-1zM552 217h1v1h-1zM553 218h1v1h-1zM554 219h1v1h-1zM555 220h1v1h-1zM556 221h1v1h-1zM557 221h1v1h-1zM558 222h1v1h-1zM559 223h1v1h-1zM560 224h1v1h-1zM561 225h1v1h-1zM562 226h1v1h-1zM563 227h1v1h-1zM564 228h1v1h-1zM565 229h1v1h-1zM566 230h1v1h-1zM567 230h1v1h-1zM568 231h1v1h-1zM569 232h1v1h-1zM570 233h1v1h-1zM571 233h1v1h-1zM572 234h1v1h-1zM573 235h1v1h-1zM574 236h1v1h-1zM575 236h1v1h-1zM576 237h1v1h-1zM577 238h1v1h-1zM578 239h1v1h-1zM579 239h1v1h-1zM580 240h1v1h-1zM581 241h1v1h-1zM582 242h1v1h-1zM583 242h1v1h-1zM584 243h1v1h-1zM585 244h1v1h-1zM586 244h1v1h-1zM587 244h1v1h-1zM588 244h1v1h-1zM589 244h1v1h-1zM590 244h1v1h-1zM591 244h1v1h-1zM592 244h1v1h-1zM593 244h1v1h-1zM594 244h1v1h-1zM595 243h1v1h-1zM596 243h1v1h-1zM597 242h1v1h-1zM598 242h1v1h-1zM599 241h1v1h-1zM600 241h1v1h-1zM601 241h1v1h-1zM602 240h1v1h-1zM603 240h1v1h-1zM604 240h1v1h-1zM605 239h1v1h-1zM606 239h1v1h-1zM607 239h1v1h-1zM608 239h1v1h-1zM609 238h1v1h-1zM610 238h1v1h-1zM611 238h1v1h-1zM612 238h1v1h-1zM613 237h1v1h-1zM614 237h1v1h-1zM615 237h1v1h-1zM616 238h1v1h-1zM617 238h1v1h-1zM618 239h1v1h-1zM619 239h1v1h-1zM620 240h1v1h-1zM621 240h1v1h-1zM622 241h1v1h-1zM623 241h1v1h-1zM624 241h1v1h-1zM625 241h1v1h-1zM626 242h1v1h-1zM627 242h1v1h-1zM628 242h1v1h-1zM629 243h1v1h-1zM630 243h1v1h-1zM631 244h1v1h-1zM632 245h1v1h-1zM633 246h1v1h-1zM634 246h1v1h-1zM635 247h1v1h-1zM636 248h1v1h-1zM637 248h1v1h-1zM638 249h1v1h-1zM639 250h1v1h-1zM640 251h1v1h-1zM641 251h1v1h-1zM642 252h1v1h-1zM643 253h1v1h-1zM644 253h1v1h-1zM645 254h1v1h-1zM646 254h1v1h-1zM647 255h1v1h-1zM648 255h1v1h-1zM649 256h1v1h-1zM650 256h1v1h-1zM651 257h1v1h-1zM652 258h1v1h-1zM653 259h1v1h-1zM654 260h1v1h-1zM655 261h1v1h-1zM656 262h1v1h-1zM657 263h1v1h-1zM658 264h1v1h-1zM659 265h1v1h-1zM660 266h1v1h-1zM661 267h1v2h-1zM662 269h1v1h-1zM663 270h1v1h-1zM664 271h1v1h-1zM665 272h1v1h-1zM666 273h1v1h-1zM667 274h1v1h-1zM668 275h1v1h-1zM669 276h1v1h-1zM670 277h1v1h-1zM671 278h1v1h-1zM672 279h1v1h-1zM673 280h1v1h-1zM674 281h1v1h-1zM675 282h1v1h-1zM676 283h1v2h-1zM677 285h1v1h-1zM678 286h1v1h-1zM679 287h1v1h-1zM680 288h1v1h-1zM681 289h1v1h-1zM682 290h1v1h-1zM683 290h1v1h-1zM684 291h1v1h-1zM685 292h1v1h-1zM686 293h1v1h-1zM687 294h1v1h-1zM688 294h1v1h-1zM689 295h1v1h-1zM690 296h1v1h-1zM691 296h1v1h-1zM692 297h1v1h-1zM693 298h1v1h-1zM694 298h1v1h-1zM695 299h1v1h-1zM696 300h1v1h-1zM697 300h1v1h-1zM698 301h1v1h-1zM699 302h1v1h-1zM700 302h1v1h-1zM701 303h1v1h-1zM702 303h1v1h-1zM703 304h1v1h-1zM704 305h1v1h-1zM705 305h1v1h-1zM706 306h1v1h-1zM707 306h1v1h-1zM708 307h1v1h-1zM709 307h1v1h-1zM710 308h1v1h-1zM711 308h1v1h-1zM712 309h1v1h-1zM713 310h1v1h-1zM714 311h1v1h-1zM715 311h1v1h-1zM716 312h1v1h-1zM717 313h1v1h-1zM718 314h1v1h-1zM719 315h1v1h-1zM720 316h1v1h-1zM721 316h1v1h-1zM722 317h1v1h-1zM723 318h1v1h-1zM724 318h1v1h-1zM725 319h1v1h-1zM726 319h1v1h-1zM727 319h1v1h-1zM728 319h1v1h-1zM729 320h1v1h-1zM730 320h1v1h-1zM731 321h1v1h-1zM732 321h1v1h-1zM733 322h1v1h-1zM734 322h1v1h-1zM735 323h1v1h-1zM736 323h1v1h-1zM737 324h1v1h-1zM738 324h1v1h-1zM739 324h1v1h-1zM740 324h1v1h-1zM741 325h1v1h-1zM742 325h1v1h-1zM743 325h1v1h-1zM744 326h1v1h-1zM745 326h1v1h-1zM746 327h1v1h-1zM747 327h1v1h-1zM748 328h1v1h-1zM749 328h1v1h-1zM750 328h1v1h-1zM751 329h1v1h-1zM752 329h1v1h-1zM753 329h1v1h-1zM754 329h1v1h-1zM755 330h1v1h-1zM756 330h1v1h-1zM757 330h1v1h-1zM758 330h1v1h-1zM759 331h1v1h-1zM760 331h1v1h-1zM761 332h1v1h-1zM762 332h1v1h-1zM763 333h1v1h-1zM764 333h1v1h-1zM765 333h1v1h-1zM766 334h1v1h-1zM767 334h1v1h-1zM768 334h1v1h-1zM769 334h1v1h-1zM770 335h1v1h-1zM771 335h1v1h-1zM772 335h1v1h-1zM773 335h1v1h-1zM774 335h1v1h-1zM775 335h1v1h-1zM776 336h1v1h-1zM777 336h1v1h-1zM778 336h1v1h-1zM779 336h1v1h-1zM780 336h1v1h-1zM781 336h1v1h-1zM782 336h1v1h-1zM783 336h1v1h-1zM784 336h1v1h-1zM785 335h1v1h-1zM786 335h1v1h-1zM787 335h1v1h-1zM788 335h1v1h-1zM789 335h1v1h-1zM790 335h1v1h-1zM791 335h1v1h-1zM792 335h1v1h-1zM793 335h1v1h-1zM794 335h1v1h-1zM795 336h1v1h-1zM796 336h1v1h-1zM797 336h1v1h-1zM798 336h1v1h-1zM799 336h1v1h-1zM800 336h1v1h-1zM801 336h1v1h-1zM802 336h1v1h-1zM803 336h1v1h-1zM804 337h1v1h-1zM805 337h1v1h-1zM806 337h1v1h-1zM807 337h1v1h-1zM808 337h1v1h-1zM809 337h1v1h-1zM810 338h1v1h-1zM811 338h1v1h-1zM812 339h1v1h-1zM813 339h1v1h-1zM814 340h1v1h-1zM815 340h1v1h-1zM816 341h1v1h-1zM817 341h1v1h-1zM818 342h1v1h-1zM819 342h1v1h-1zM820 343h1v1h-1zM821 343h1v1h-1zM822 344h1v1h-1zM823 345h1v1h-1zM824 346h1v1h-1zM825 346h1v1h-1zM826 347h1v1h-1zM827 348h1v1h-1zM828 349h1v1h-1zM829 350h1v1h-1zM830 351h1v2h-1zM831 353h1v1h-1zM832 354h1v1h-1zM833 355h1v2h-1zM834 357h1v1h-1zM835 358h1v2h-1zM836 360h1v1h-1zM837 361h1v2h-1zM838 363h1v2h-1zM839 365h1v1h-1zM840 366h1v1h-1zM841 367h1v1h-1zM842 368h1v1h-1zM843 369h1v2h-1zM844 371h1v1h-1zM845 372h1v1h-1zM846 373h1v1h-1zM847 374h1v1h-1zM848 375h1v1h-1zM849 376h1v1h-1zM850 377h1v1h-1zM851 378h1v1h-1zM852 379h1v1h-1zM853 380h1v1h-1zM854 381h1v1h-1zM855 382h1v1h-1zM856 383h1v1h-1zM857 384h1v1h-1zM858 385h1v1h-1zM859 386h1v1h-1zM860 387h1v1h-1zM861 388h1v1h-1zM862 389h1v1h-1zM863 390h1v1h-1zM864 391h1v1h-1zM865 392h1v2h-1zM866 394h1v1h-1zM867 395h1v1h-1zM868 396h1v2h-1zM869 398h1v1h-1zM870 399h1v1h-1zM871 400h1v1h-1zM872 401h1v1h-1zM873 401h1v1h-1zM874 402h1v1h-1zM875 403h1v1h-1zM876 404h1v1h-1zM877 405h1v1h-1zM878 406h1v1h-1zM879 407h1v2h-1zM880 409h1v1h-1zM881 410h1v1h-1zM882 411h1v1h-1zM883 412h1v1h-1zM884 413h1v1h-1zM885 414h1v1h-1zM886 415h1v2h-1zM887 417h1v1h-1zM888 418h1v1h-1zM889 419h1v1h-1zM890 420h1v1h-1zM891 421h1v1h-1zM892 422h1v1h-1zM893 423h1v1h-1zM894 423h1v1h-1zM895 424h1v1h-1zM896 425h1v1h-1zM897 426h1v1h-1zM898 427h1v1h-1zM899 428h1v1h-1zM900 429h1v1h-1zM901 430h1v1h-1zM902 431h1v1h-1zM903 432h1v1h-1zM904 433h1v1h-1zM905 434h1v1h-1zM906 434h1v1h-1zM907 435h1v1h-1zM908 436h1v1h-1zM909 437h1v1h-1zM910 437h1v1h-1zM911 438h1v1h-1zM912 438h1v1h-1zM913 439h1v1h-1zM914 439h1v1h-1zM915 440h1v1h-1zM916 440h1v1h-1zM917 440h1v1h-1zM918 441h1v1h-1zM919 441h1v1h-1zM920 442h1v1h-1zM921 442h1v1h-1zM922 443h1v1h-1zM923 443h1v1h-1zM924 444h1v1h-1zM925 444h1v1h-1zM926 445h1v1h-1zM927 446h1v1h-1zM928 446h1v1h-1zM929 447h1v1h-1zM930 447h1v1h-1zM931 448h1v1h-1zM932 448h1v1h-1zM933 449h1v1h-1zM934 450h1v1h-1zM935 450h1v1h-1zM936 451h1v1h-1zM937 452h1v1h-1zM938 452h1v1h-1zM939 453h1v1h-1zM940 453h1v1h-1zM941 454h1v1h-1zM942 454h1v1h-1zM943 455h1v1h-1zM944 455h1v1h-1zM945 456h1v1h-1zM946 456h1v1h-1zM947 457h1v1h-1zM948 457h1v1h-1zM949 458h1v1h-1zM950 458h1v1h-1zM951 459h1v1h-1zM952 459h1v1h-1zM953 460h1v1h-1zM954 460h1v1h-1zM955 461h1v1h-1zM956 461h1v1h-1zM957 462h1v1h-1zM958 462h1v1h-1zM959 463h1v1h-1zM960 463h1v1h-1zM961 464h1v1h-1zM962 464h1v1h-1zM963 465h1v1h-1zM964 465h1v1h-1zM965 466h1v1h-1zM966 466h1v1h-1zM967 467h1v1h-1zM968 467h1v1h-1zM969 468h1v1h-1zM970 469h1v1h-1zM971 469h1v1h-1zM972 470h1v1h-1zM973 470h1v1h-1zM974 471h1v1h-1zM975 471h1v1h-1zM976 472h1v1h-1zM977 472h1v1h-1zM978 473h1v1h-1zM979 473h1v1h-1zM980 474h1v1h-1zM981 474h1v1h-1zM982 475h1v1h-1zM983 475h1v1h-1zM984 476h1v1h-1zM985 476h1v1h-1zM986 477h1v1h-1zM987 477h1v1h-1zM988 478h1v1h-1zM989 478h1v1h-1zM990 479h1v1h-1zM991 479h1v1h-1zM992 480h1v1h-1zM993 480h1v1h-1zM994 480h1v1h-1zM995 481h1v1h-1zM996 481h1v1h-1zM997 482h1v1h-1zM998 482h1v1h-1zM999 483h1v1h-1zM1000 483h1v1h-1zM1001 484h1v1h-1zM1002 484h1v1h-1zM1003 485h1v1h-1zM1004 485h1v1h-1zM1005 486h1v1h-1zM1006 486h1v1h-1zM1007 487h1v1h-1zM1008 487h1v1h-1zM1009 487h1v1h-1zM1010 488h1v1h-1zM1011 488h1v1h-1zM1012 488h1v1h-1zM1013 488h1v1h-1zM1014 489h1v1h-1zM1015 489h1v1h-1z"/>
<g shape-rendering="crispEdges" fill="#000">
<rect x="1" y="30" width="1025" height="1"/>
<rect x="1" y="30" width="1" height="515"/>
<rect x="1025" y="30" width="1" height="515"/>
<rect x="1" y="544" width="1025" height="1"/>
<rect x="0" y="541" width="1" height="1"/>
<rect x="1026" y="541" width="1" height="1"/>
<rect x="0" y="534" width="1" height="1"/>
<rect x="1026" y="534" width="1" height="1"/>
<rect x="0" y="528" width="1" height="1"/>
<rect x="1026" y="528" width="1" height="1"/>
<rect x="0" y="522" width="1" height="1"/>
<rect x="1026" y="522" width="1" height="1"/>
<rect x="0" y="516" width="1" height="1"/>
<rect x="1026" y="516" width="2" height="1"/>
<rect x="0" y="509" width="1" height="1"/>
<rect x="1026" y="509" width="1" height="1"/>
<rect x="0" y="503" width="1" height="1"/>
<rect x="1026" y="503" width="1" height="1"/>
<rect x="0" y="497" width="1" height="1"/>
<rect x="1026" y="497" width="1" height="1"/>
<rect x="0" y="490" width="1" height="1"/>
<rect x="1026" y="490" width="1" height="1"/>
<rect x="0" y="484" width="1" height="1"/>
<rect x="1026" y="484" width="1" height="1"/>
<rect x="0" y="478" width="1" height="1"/>
<rect x="1026" y="478" width="1" height="1"/>
<rect x="0" y="472" width="1" height="1"/>
<rect x="1026" y="472" width="1" height="1"/>
<rect x="0" y="465" width="1" height="1"/>
<rect x="1026" y="465" width="1" height="1"/>
<rect x="0" y="459" width="1" height="1"/>
<rect x="1026" y="459" width="1" height="1"/>
<rect x="0" y="453" width="1" height="1"/>
<rect x="1026" y="453" width="2" height="1"/>
<rect x="0" y="446" width="1" height="1"/>
<rect x="1026" y="446" width="1" height="1"/>
<rect x="0" y="440" width="1" height="1"/>
<rect x="1026" y="440" width="1" height="1"/>
<rect x="0" y="434" width="1" height="1"/>
<rect x="1026" y="434" width="1" height="1"/>
<rect x="0" y="428" width="1" height="1"/>
<rect x="1026" y="428" width="1" height="1"/>
<rect x="0" y="421" width="1" height="1"/>
<rect x="1026" y="421" width="1" height="1"/>
<rect x="0" y="415" width="1" height="1"/>
<rect x="1026" y="415" width="1" height="1"/>
<rect x="0" y="409" width="1" height="1"/>
<rect x="1026" y="409" width="1" height="1"/>
<rect x="0" y="403" width="1" height="1"/>
<rect x="1026" y="403" width="1" height="1"/>
<rect x="0" y="396" width="1" height="1"/>
<rect x="1026" y="396" width="1" height="1"/>
<rect x="0" y="390" width="1" height="1"/>
<rect x="1026" y="390" width="2" height="1"/>
<rect x="0" y="384" width="1" height="1"/>
<rect x="1026" y="384" width="1" height="1"/>
<rect x="0" y="377" width="1" height="1"/>
<rect x="1026" y="377" width="1" height="1"/>
<rect x="0" y="371" width="1" height="1"/>
<rect x="1026" y="371" width="1" height="1"/>
<rect x="0" y="365" width="1" height="1"/>
<rect x="1026" y="365" width="1" height="1"/>
<rect x="0" y="359" width="1" height="1"/>
<rect x="1026" y="359" width="1" height="1"/>
<rect x="0" y="352" width="1" height="1"/>
<rect x="1026" y="352" width="1" height="1"/>
<rect x="0" y="346" width="1" height="1"/>
<rect x="1026" y="346" width="1" height="1"/>
<rect x="0" y="339" width="1" height="1"/>
<rect x="1026" y="339" width="1" height="1"/>
<rect x="0" y="333" width="1" height="1"/>
<rect x="1026" y="333" width="1" height="1"/>
<rect x="0" y="327" width="1" height="1"/>
<rect x="1026" y="327" width="2" height="1"/>
<rect x="0" y="321" width="1" height="1"/>
<rect x="1026" y="321" width="1" height="1"/>
<rect x="0" y="315" width="1" height="1"/>
<rect x="1026" y="315" width="1" height="1"/>
<rect x="0" y="308" width="1" height="1"/>
<rect x="1026" y="308" width="1" height="1"/>
<rect x="0" y="302" width="1" height="1"/>
<rect x="1026" y="302" width="1" height="1"/>
<rect x="0" y="296" width="1" height="1"/>
<rect x="1026" y="296" width="1" height="1"/>
<rect x="0" y="290" width="1" height="1"/>
<rect x="1026" y="290" width="1" height="1"/>
<rect x="0" y="283" width="1" height="1"/>
<rect x="1026" y="283" width="1" height="1"/>
<rect x="0" y="277" width="1" height="1"/>
<rect x="1026" y="277" width="1" height="1"/>
<rect x="0" y="271" width="1" height="1"/>
<rect x="1026" y="271" width="1" height="1"/>
<rect x="0" y="265" width="1" height="1"/>
<rect x="1026" y="265" width="2" height="1"/>
<rect x="0" y="258" width="1" height="1"/>
<rect x="1026" y="258" width="1" height="1"/>
<rect x="0" y="252" width="1" height="1"/>
<rect x="1026" y="252" width="1" height="1"/>
<rect x="0" y="246" width="1" height="1"/>
<rect x="1026" y="246" width="1" height="1"/>
<rect x="0" y="239" width="1" height="1"/>
<rect x="1026" y="239" width="1" height="1"/>
<rect x="0" y="233" width="1" height="1"/>
<rect x="1026" y="233" width="1" height="1"/>
<rect x="0" y="227" width="1" height="1"/>
<rect x="1026" y="227" width="1" height="1"/>
<rect x="0" y="221" width="1" height="1"/>
<rect x="1026" y="221" width="1" height="1"/>
<rect x="0" y="214" width="1" height="1"/>
<rect x="1026" y="214" width="1" height="1"/>
<rect x="0" y="208" width="1" height="1"/>
<rect x="1026" y="208" width="1" height="1"/>
<rect x="0" y="202" width="1" height="1"/>
<rect x="1026" y="202" width="2" height="1"/>
<rect x="0" y="195" width="1" height="1"/>
<rect x="1026" y="195" width="1" height="1"/>
<rect x="0" y="189" width="1" height="1"/>
<rect x="1026" y="189" width="1" height="1"/>
<rect x="0" y="183" width="1" height="1"/>
<rect x="1026" y="183" width="1" height="1"/>
<rect x="0" y="177" width="1" height="1"/>
<rect x="1026" y="177" width="1" height="1"/>
<rect x="0" y="170" width="1" height="1"/>
<rect x="1026" y="170" width="1" height="1"/>
<rect x="0" y="164" width="1" height="1"/>
<rect x="1026" y="164" width="1" height="1"/>
<rect x="0" y="158" width="1" height="1"/>
<rect x="1026" y="158" width="1" height="1"/>
<rect x="0" y="151" width="1" height="1"/>
<rect x="1026" y="151" width="1" height="1"/>
<rect x="0" y="145" width="1" height="1"/>
<rect x="1026" y="145" width="1" height="1"/>
<rect x="0" y="139" width="1" height="1"/>
<rect x="1026" y="139" width="2" height="1"/>
<rect x="0" y="133" width="1" height="1"/>
<rect x="1026" y="133" width="1" height="1"/>
<rect x="0" y="126" width="1" height="1"/>
<rect x="1026" y="126" width="1" height="1"/>
<rect x="0" y="120" width="1" height="1"/>
<rect x="1026" y="120" width="1" height="1"/>
<rect x="0" y="114" width="1" height="1"/>
<rect x="1026" y="114" width="1" height="1"/>
<rect x="0" y="108" width="1" height="1"/>
<rect x="1026" y="108" width="1" height="1"/>
<rect x="0" y="101" width="1" height="1"/>
<rect x="1026" y="101" width="1" height="1"/>
<rect x="0" y="95" width="1" height="1"/>
<rect x="1026" y="95" width="1" height="1"/>
<rect x="0" y="89" width="1" height="1"/>
<rect x="1026" y="89" width="1" height="1"/>
<rect x="0" y="82" width="1" height="1"/>
<rect x="1026" y="82" width="1" height="1"/>
<rect x="0" y="76" width="1" height="1"/>
<rect x="1026" y="76" width="2" height="1"/>
<rect x="0" y="70" width="1" height="1"/>
<rect x="1026" y="70" width="1" height="1"/>
<rect x="0" y="64" width="1" height="1"/>
<rect x="1026" y="64" width="1" height="1"/>
<rect x="0" y="58" width="1" height="1"/>
<rect x="1026" y="58" width="1" height="1"/>
<rect x="0" y="51" width="1" height="1"/>
<rect x="1026" y="51" width="1" height="1"/>
<rect x="0" y="45" width="1" height="1"/>
<rect x="1026" y="45" width="1" height="1"/>
<rect x="0" y="39" width="1" height="1"/>
<rect x="1026" y="39" width="1" height="1"/>
<rect x="0" y="32" width="1" height="1"/>
<rect x="1026" y="32" width="1" height="1"/>
<rect x="10" y="545" width="1" height="4"/>
<rect x="33" y="545" width="1" height="4"/>
<rect x="84" y="545" width="1" height="4"/>
<rect x="134" y="545" width="1" height="4"/>
<rect x="185" y="545" width="1" height="4"/>
<rect x="235" y="545" width="1" height="4"/>
<rect x="285" y="545" width="1" height="4"/>
<rect x="336" y="545" width="1" height="4"/>
<rect x="386" y="545" width="1" height="4"/>
<rect x="437" y="545" width="1" height="4"/>
<rect x="487" y="545" width="1" height="4"/>
<rect x="538" y="545" width="1" height="4"/>
<rect x="588" y="545" width="1" height="4"/>
<rect x="639" y="545" width="1" height="4"/>
<rect x="689" y="545" width="1" height="4"/>
<rect x="740" y="545" width="1" height="4"/>
<rect x="790" y="545" width="1" height="4"/>
<rect x="837" y="545" width="1" height="4"/>
<rect x="887" y="545" width="1" height="4"/>
<rect x="941" y="545" width="1" height="4"/>
<rect x="992" y="545" width="1" height="4"/>
</g>
<text x="9.81" y="21" font-size="17px" letter-spacing="0.293" fill="#000" stroke-width="0.25" stroke="#000">Kazakhmys</text>
<text x="106.01" y="21" font-size="17px" letter-spacing="0.336" fill="#000" stroke-width="0.25" stroke="#000">PLC</text>
<text x="144.95" y="21" font-size="17px" letter-spacing="0.487" fill="#000" stroke-width="0.25" stroke="#000">(KAZ</text>
<text x="189.51" y="21" font-size="17px" letter-spacing="1.249" fill="#000" stroke-width="0.25" stroke="#000">LN</text>
<text x="216.31" y="21" font-size="17px" letter-spacing="1.034" fill="#000" stroke-width="0.25" stroke="#000">EQUITY)</text>
<text x="295.85" y="21" font-size="17px" letter-spacing="0.605" fill="#000" stroke-width="0.25" stroke="#000">229.00</text>
<text x="355.94" y="21" font-size="17px" letter-spacing="0.989" fill="#ff0000" stroke-width="0.25" stroke="#ff0000">-4.9</text>
<text x="795.12" y="20" font-size="17px" letter-spacing="0.531" fill="#0000ff" stroke-width="0.25" stroke="#0000ff">www.ftmoney.com</text>
<text x="943.85" y="20" font-size="17px" letter-spacing="0.882" fill="#000" stroke-width="0.25" stroke="#000">2014-02-18</text>
<text x="10.54" y="44.5" font-size="14px" letter-spacing="-0.122" fill="#0000e0">Weekly</text>
<text x="9.85" y="64.8" font-size="14px" letter-spacing="-0.051" fill="#a52a2a">MA 200</text>
<text x="1029.95" y="521" font-size="13px" letter-spacing="0.736" fill="#000">200</text>
<text x="1030.3" y="458" font-size="13px" letter-spacing="0.558" fill="#000">400</text>
<text x="1029.94" y="395" font-size="13px" letter-spacing="0.739" fill="#000">600</text>
<text x="1030.04" y="332" font-size="13px" letter-spacing="0.691" fill="#000">800</text>
<text x="1030.71" y="270" font-size="13px" letter-spacing="0.393" fill="#000">1000</text>
<text x="1030.71" y="207" font-size="13px" letter-spacing="0.393" fill="#000">1200</text>
<text x="1030.71" y="144" font-size="13px" letter-spacing="0.393" fill="#000">1400</text>
<text x="1030.71" y="81" font-size="13px" letter-spacing="0.393" fill="#000">1600</text>
<text x="25.47" y="561.5" font-size="13px" letter-spacing="0.306" fill="#000">Apr</text>
<text x="78.85" y="561.5" font-size="13px" letter-spacing="-0.023" fill="#000">Jul</text>
<text x="125.88" y="561.5" font-size="13px" letter-spacing="0.544" fill="#000">Oct</text>
<text x="171.95" y="561.5" font-size="13px" letter-spacing="0.281" fill="#000">2010</text>
<text x="227.47" y="561.5" font-size="13px" letter-spacing="0.306" fill="#000">Apr</text>
<text x="279.85" y="561.5" font-size="13px" letter-spacing="-0.023" fill="#000">Jul</text>
<text x="327.88" y="561.5" font-size="13px" letter-spacing="0.544" fill="#000">Oct</text>
<text x="372.95" y="561.5" font-size="13px" letter-spacing="0.323" fill="#000">2011</text>
<text x="429.47" y="561.5" font-size="13px" letter-spacing="0.306" fill="#000">Apr</text>
<text x="481.85" y="561.5" font-size="13px" letter-spacing="-0.023" fill="#000">Jul</text>
<text x="529.88" y="561.5" font-size="13px" letter-spacing="0.544" fill="#000">Oct</text>
<text x="574.95" y="561.5" font-size="13px" letter-spacing="0.329" fill="#000">2012</text>
<text x="631.47" y="561.5" font-size="13px" letter-spacing="0.306" fill="#000">Apr</text>
<text x="683.85" y="561.5" font-size="13px" letter-spacing="-0.023" fill="#000">Jul</text>
<text x="731.88" y="561.5" font-size="13px" letter-spacing="0.544" fill="#000">Oct</text>
<text x="776.95" y="561.5" font-size="13px" letter-spacing="0.302" fill="#000">2013</text>
<text x="829.47" y="561.5" font-size="13px" letter-spacing="0.306" fill="#000">Apr</text>
<text x="881.85" y="561.5" font-size="13px" letter-spacing="-0.023" fill="#000">Jul</text>
<text x="932.88" y="561.5" font-size="13px" letter-spacing="0.544" fill="#000">Oct</text>
<text x="978.95" y="561.5" font-size="13px" letter-spacing="0.238" fill="#000">2014</text>
<text x="654.75" y="589.7" font-size="11px" letter-spacing="0.718" fill="#999">This website is © 2008-2014 FT Money plc. All rights reserved.</text>
</svg></body></html>
